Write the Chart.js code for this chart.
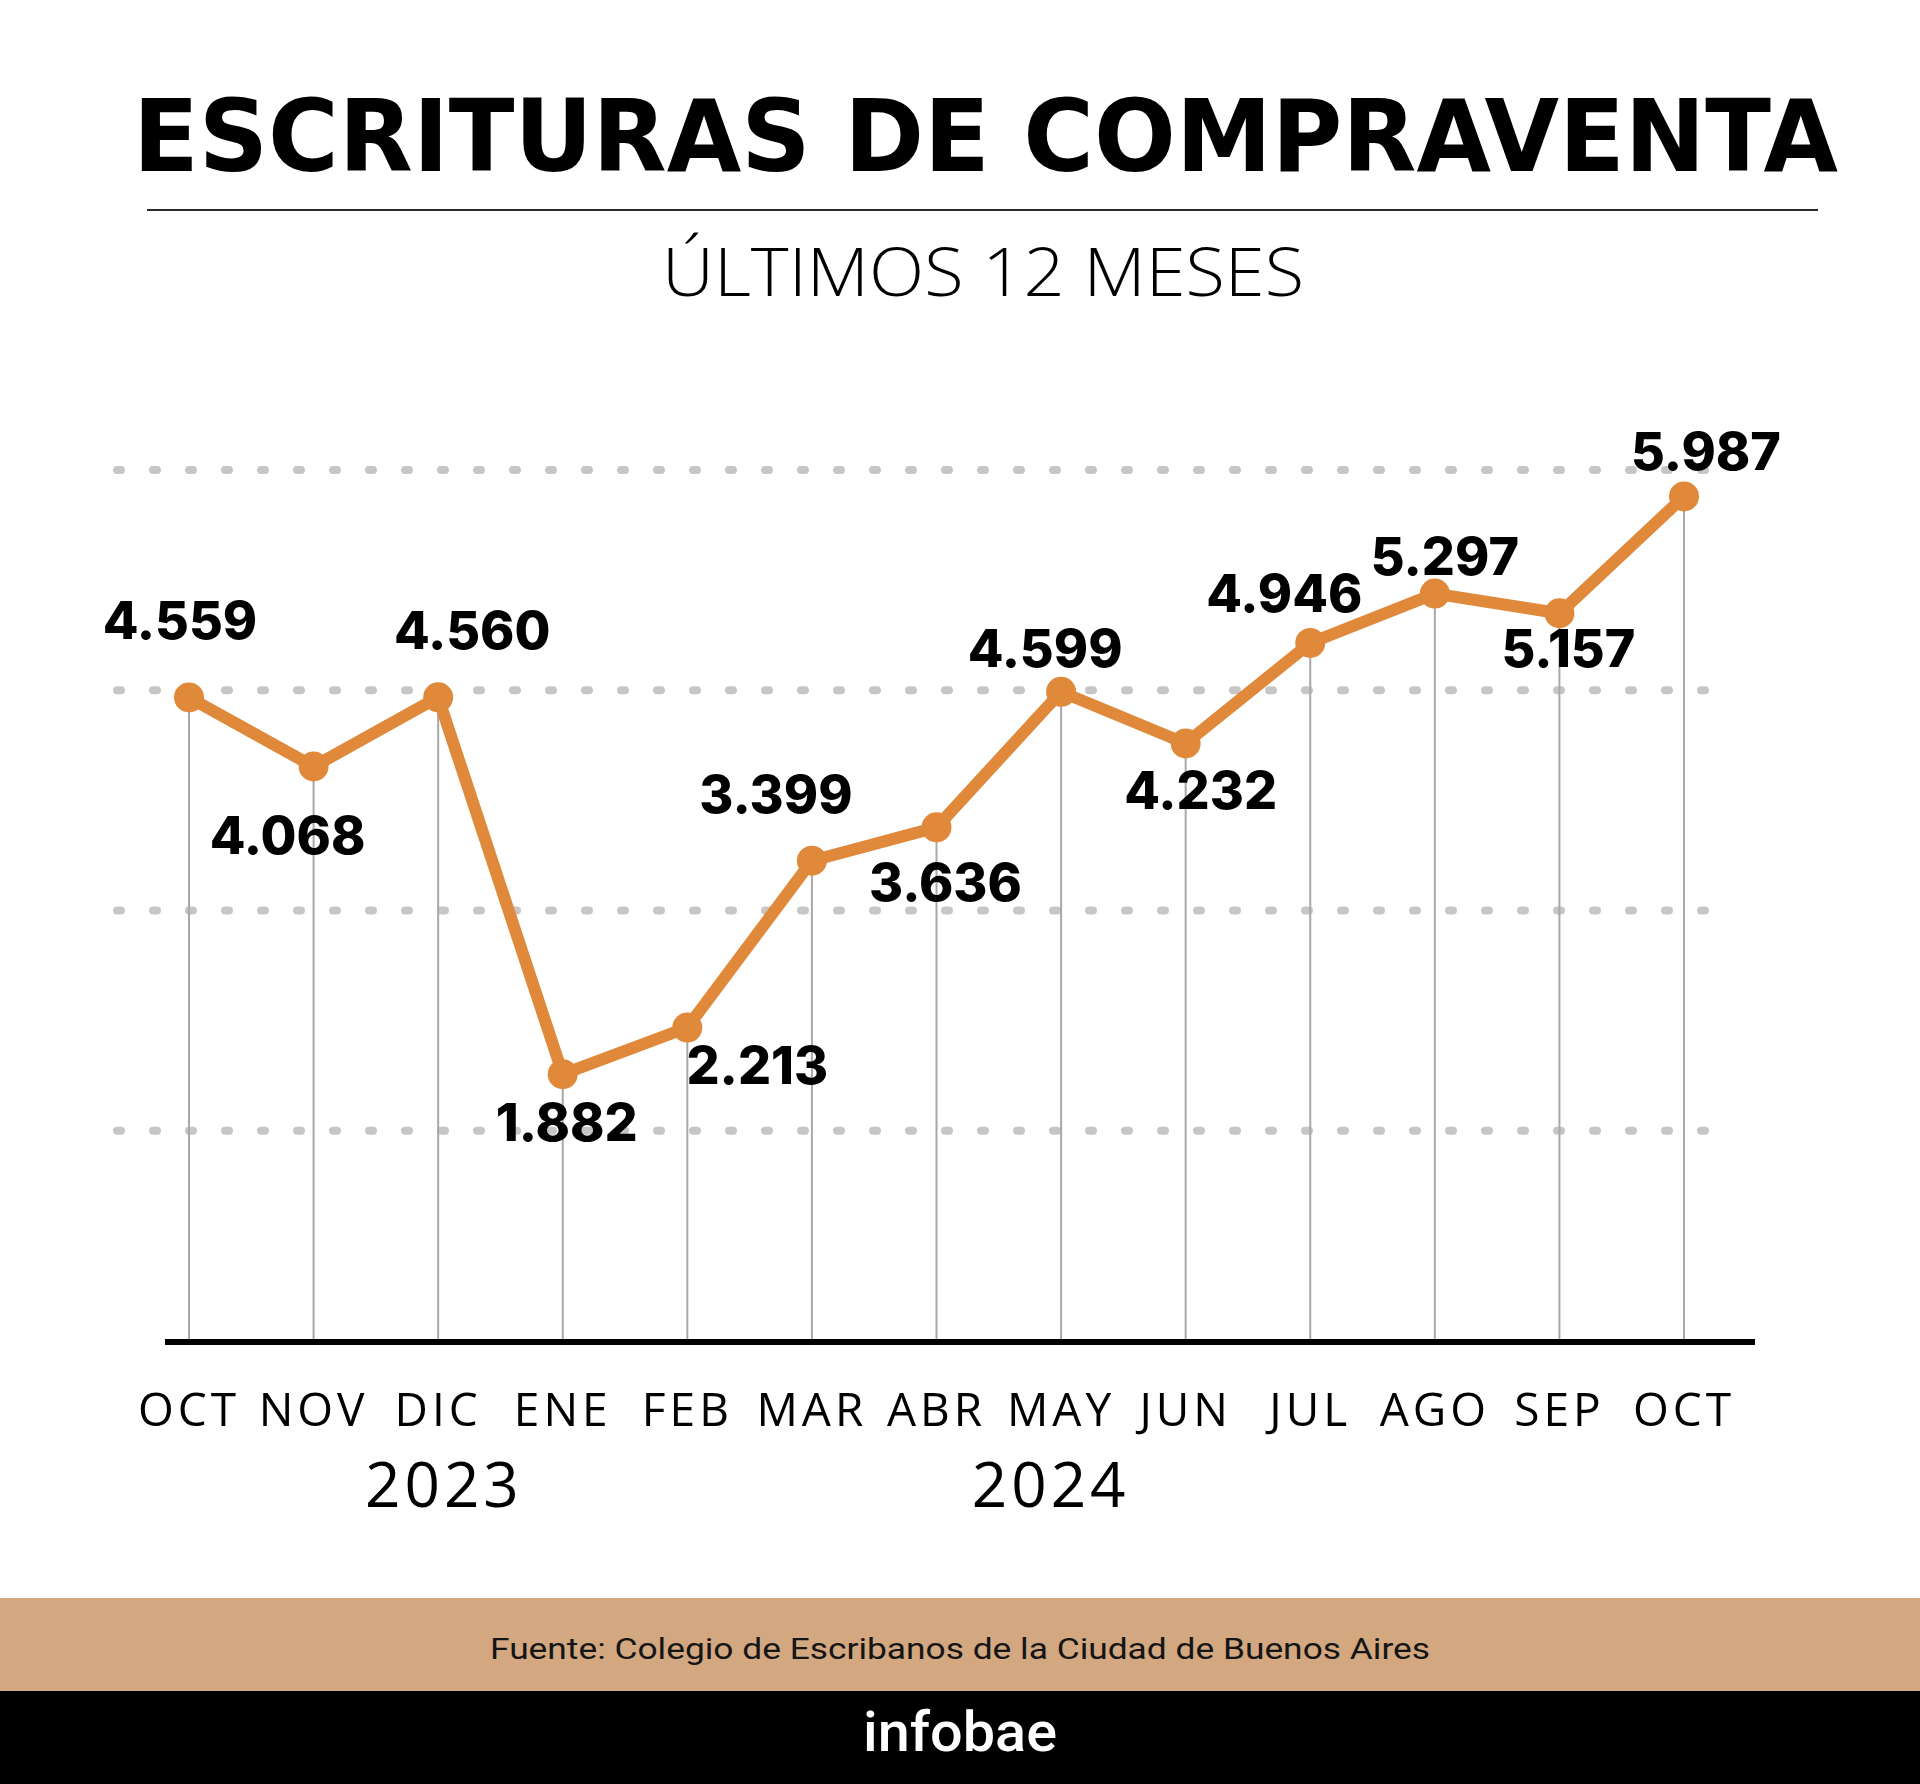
<!DOCTYPE html>
<html lang="es">
<head>
<meta charset="utf-8">
<title>Escrituras de compraventa</title>
<script src="https://cdn.jsdelivr.net/npm/chart.js@4.4.1/dist/chart.umd.min.js"></script>
<style>
  html, body { margin: 0; padding: 0; background: #fff; }
  body { width: 1920px; height: 1784px; position: relative; overflow: hidden; }
  .txt { position: absolute; white-space: nowrap; transform-origin: left top; margin: 0; }
  #title { color: #000; }
  #subtitle { color: #000; }
  #rule { position: absolute; left: 147px; top: 209px; width: 1671px; height: 2px; background: #2a2a2a; }
  #chartWrap { position: absolute; left: 0; top: 0; width: 1920px; height: 1560px; }
  #band { position: absolute; left: 0; top: 1598px; width: 1920px; height: 93px; background: #D3A77F; }
  #black { position: absolute; left: 0; top: 1691px; width: 1920px; height: 93px; background: #000; }
  #source { color: #151515; }
  #logo { color: #fff; }
</style>
</head>
<body>
<div id="title" class="txt">ESCRITURAS DE COMPRAVENTA</div>
<div id="rule"></div>
<div id="subtitle" class="txt">ÚLTIMOS 12 MESES</div>
<div id="chartWrap"><canvas id="chart" width="1920" height="1560"></canvas></div>
<div id="band"></div>
<div id="black"></div>
<div id="source" class="txt">Fuente: Colegio de Escribanos de la Ciudad de Buenos Aires</div>
<div id="logo" class="txt">infobae</div>

<script>
// ---- data ----
const months = ['OCT', 'NOV', 'DIC', 'ENE', 'FEB', 'MAR', 'ABR', 'MAY', 'JUN', 'JUL', 'AGO', 'SEP', 'OCT'];
const escrituras = [4559, 4068, 4560, 1882, 2213, 3399, 3636, 4599, 4232, 4946, 5297, 5157, 5987];
const years = ['2023', '2024'];
const yGridValues = [1480, 3045, 4610, 6175];

// ---- style config (label placement relative to each point, year label anchors) ----
const labelOffsets = [[-9,-77],[-26,68],[34,-67],[4,48],[70,37],[-36,-67],[9,55],[-16,-44],[15,47],[-26,-50],[10,-38],[9,35],[22,-45]];
const yearAnchors = [2.03, 6.9];

const ORANGE = '#E0893A';

function fmt(v) { return String(v).replace(/\B(?=(\d{3})+(?!\d))/g, '.'); }

// ---- HTML text placement helper ----
const mctx = document.createElement('canvas').getContext('2d');
function place(id, o) {
  const el = document.getElementById(id);
  el.style.font = o.font;
  el.style.lineHeight = '0px';
  mctx.font = o.font;
  const m = mctx.measureText('H');
  const A = m.fontBoundingBoxAscent, D = m.fontBoundingBoxDescent;
  el.style.top = (o.baseline - (A - D) / 2) + 'px';
  el.style.left = o.left + 'px';
  const w = el.getBoundingClientRect().width;
  el.style.transform = 'scaleX(' + (o.width / w) + ')';
}
place('title',    { font: 'bold 99px "DejaVu Sans"', baseline: 171, left: 133, width: 1705 });
place('subtitle', { font: '300 67px "Open Sans"', baseline: 296, left: 662, width: 642 });
place('source',   { font: '400 30px Roboto', baseline: 1659, left: 490, width: 940 });
place('logo',     { font: '500 55px Roboto', baseline: 1751, left: 863, width: 194 });

// ---- chart ----
const decor = {
  id: 'decor',
  beforeDraw(chart) {
    chart.ctx.letterSpacing = '4px';
  },
  beforeDatasetsDraw(chart) {
    const { ctx, chartArea: a, scales: { x, y } } = chart;
    ctx.letterSpacing = '0px';
    ctx.save();
    // dotted horizontal guides
    ctx.strokeStyle = '#c6c6c6';
    ctx.lineWidth = 8;
    ctx.lineCap = 'round';
    ctx.setLineDash([4, 32]);
    yGridValues.forEach(v => {
      const py = y.getPixelForValue(v);
      ctx.beginPath();
      ctx.moveTo(a.left - 72, py);
      ctx.lineTo(a.right + 30, py);
      ctx.stroke();
    });
    ctx.setLineDash([]);
    // drop lines
    ctx.strokeStyle = '#a8a8a8';
    ctx.lineWidth = 2;
    ctx.lineCap = 'butt';
    escrituras.forEach((v, i) => {
      const px = x.getPixelForValue(i), py = y.getPixelForValue(v);
      ctx.beginPath();
      ctx.moveTo(px, py);
      ctx.lineTo(px, a.bottom);
      ctx.stroke();
    });
    // baseline
    ctx.fillStyle = '#000';
    ctx.fillRect(a.left - 24, a.bottom, (a.right + 71) - (a.left - 24), 6);
    ctx.restore();
  },
  afterDatasetsDraw(chart) {
    const { ctx, scales: { x, y } } = chart;
    ctx.save();
    ctx.letterSpacing = '0px';
    ctx.fillStyle = '#000';
    ctx.font = '800 52px Inter';
    ctx.textAlign = 'center';
    ctx.textBaseline = 'alphabetic';
    escrituras.forEach((v, i) => {
      const px = x.getPixelForValue(i), py = y.getPixelForValue(v);
      const [dx, dy] = labelOffsets[i];
      ctx.fillText(fmt(v), px + dx, py + dy + 19);
    });
    // year labels
    ctx.font = '400 62px "Open Sans"';
    ctx.letterSpacing = '4px';
    ctx.fillStyle = '#000';
    years.forEach((yr, k) => {
      ctx.fillText(yr, x.getPixelForValue(yearAnchors[k]) + 2, 1507);
    });
    ctx.restore();
  }
};

new Chart(document.getElementById('chart'), {
  type: 'line',
  data: {
    labels: months,
    datasets: [{
      data: escrituras,
      borderColor: ORANGE,
      backgroundColor: ORANGE,
      borderWidth: 12,
      pointRadius: 15,
      pointBorderWidth: 0,
      pointBackgroundColor: ORANGE,
      tension: 0,
      fill: false,
      clip: false
    }]
  },
  options: {
    responsive: false,
    maintainAspectRatio: false,
    animation: false,
    layout: { padding: { left: 189, right: 1920 - 1684, top: 470, bottom: 71 } },
    plugins: { legend: { display: false }, tooltip: { enabled: false } },
    scales: {
      x: {
        type: 'category',
        offset: false,
        grid: { display: false, drawTicks: false },
        border: { display: false },
        ticks: {
          color: '#000',
          font: { family: 'Open Sans', size: 46, weight: '400' },
          padding: 46,
          maxRotation: 0,
          autoSkip: false
        },
        afterFit(s) { s.height = 150; }
      },
      y: { display: false, min: 0, max: 6175 }
    }
  },
  plugins: [decor]
});
</script>
</body>
</html>
